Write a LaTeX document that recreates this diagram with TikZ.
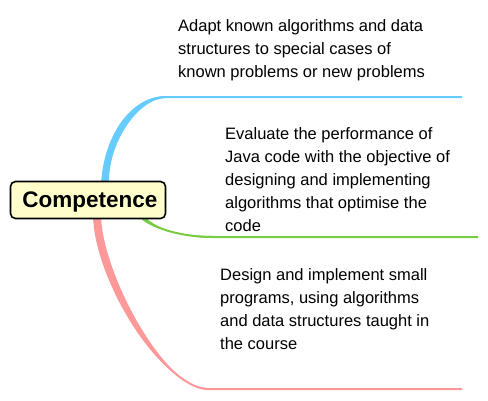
\documentclass[tikz,border=0pt]{standalone}
\usepackage{fontspec}
\setmainfont{Liberation Sans}
\definecolor{adaptblue}{RGB}{102, 204, 255}
\definecolor{evalgreen}{RGB}{119, 204, 68}
\definecolor{designpink}{RGB}{255, 153, 153}
\definecolor{rootyellow}{RGB}{255, 255, 204}
\usetikzlibrary{calc, backgrounds}

\begin{document}
\begin{tikzpicture}[x=1pt, y=-1pt,
    rootbox/.style={draw, line width=1.6pt, fill=rootyellow, rounded corners=5pt,
                    minimum width=155pt, minimum height=37pt, inner sep=0pt, text depth=0pt,
                    font=\fontsize{22.5}{26}\selectfont\bfseries},
    leaftext/.style={anchor=north west, inner sep=0pt, align=left,
                     font=\fontsize{16.5}{23}\selectfont},
    branch/.style={line width=2pt}]
    \useasboundingbox (0,0) rectangle (488,400);

    % Central topic
    \node[rootbox] (comp) at (88,200) {\hspace*{4pt}Competence};

    % Leaf texts
    \node[leaftext] (adapt) at (178,19) {Adapt known algorithms and data\\
        structures to special cases of\\known problems or new problems};
    \node[leaftext] (evaluate) at (225,127) {Evaluate the performance of\\
        Java code with the objective of\\designing and implementing\\
        algorithms that optimise the\\code};
    \node[leaftext] (design) at (220,268) {Design and implement small\\
        programs, using algorithms\\and data structures taught in\\the course};

    % Branch ends
    \coordinate (adaptroot) at ($(comp.north)+(17,3)$);
    \coordinate (adaptbend) at (166,97);
    \coordinate (adaptend) at (462,97);
    \coordinate (evalroot) at ($(comp.south)+(53,-4)$);
    \coordinate (evalbend) at (213,237);
    \coordinate (evalend) at (478,237);
    \coordinate (designroot) at ($(comp.south)+(9,-3)$);
    \coordinate (designbend) at (207,389);
    \coordinate (designend) at (462,389);

    \begin{scope}[on background layer]
        % Blue branch
        \fill[adaptblue] ($(adaptroot)+(-4,0)$) .. controls +(3,-50) and +(-34,0) .. ($(adaptbend)+(0,-1)$)
            -- ($(adaptbend)+(0,1)$) .. controls +(-27,0) and +(-1,-42) .. ($(adaptroot)+(4,0)$) -- cycle;
        \draw[branch, adaptblue] (adaptroot) .. controls +(3,-45) and +(-31,0) .. (adaptbend) -- (adaptend);
        % Green branch
        \fill[evalgreen] ($(evalroot)+(-3,0)$) .. controls +(10,14) and +(-32,0) .. ($(evalbend)+(0,-1)$)
            -- ($(evalbend)+(0,1)$) .. controls +(-30,0) and +(8,12) .. ($(evalroot)+(3,0)$) -- cycle;
        \draw[branch, evalgreen] (evalroot) .. controls +(9,13) and +(-31,0) .. (evalbend) -- (evalend);
        % Pink branch
        \fill[designpink] ($(designroot)+(-4,0)$) .. controls +(2,64) and +(-48,-2) .. ($(designbend)+(0,-1)$)
            -- ($(designbend)+(0,1)$) .. controls +(-44,-4) and +(2,58) .. ($(designroot)+(4,0)$) -- cycle;
        \draw[branch, designpink] (designroot) .. controls +(3,62) and +(-46,-3) .. (designbend) -- (designend);
    \end{scope}
\end{tikzpicture}
\end{document}
